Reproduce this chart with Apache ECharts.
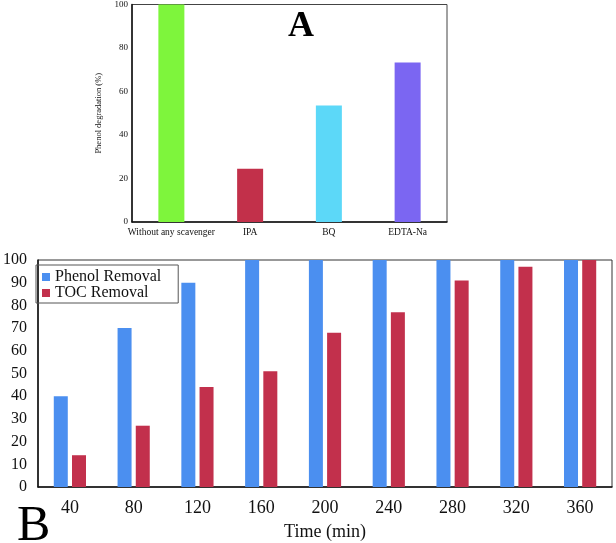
<!DOCTYPE html>
<html>
<head>
<meta charset="utf-8">
<script src="https://cdn.jsdelivr.net/npm/echarts@6/dist/echarts.min.js"></script>
<style>html,body{margin:0;padding:0;background:#fff;}#c{width:616px;height:543px;}</style>
</head>
<body>
<div id="c"></div>
<script>
const scavengers = ['Without any scavenger', 'IPA', 'BQ', 'EDTA-Na'];
const degradation = [100, 24.5, 53.6, 73.3];
const scavengerColors = ['#7ef53c', '#c2304a', '#5cd8f8', '#7b66f2'];
const degTicks = [0, 20, 40, 60, 80, 100];

const times = ['40', '80', '120', '160', '200', '240', '280', '320', '360'];
const phenolRemoval = [40, 70, 90, 100, 100, 100, 100, 100, 100];
const tocRemoval = [14, 27, 44, 51, 68, 77, 91, 97, 100];
const removalTicks = [0, 10, 20, 30, 40, 50, 60, 70, 80, 90, 100];

const serif = '"Liberation Serif", "DejaVu Serif", serif';
const chart = echarts.init(document.getElementById('c'));

chart.setOption({
  animation: false,
  backgroundColor: '#fff',
  graphic: [
    { type: 'text', left: 288, top: 9, style: { text: 'A', font: 'bold 36px ' + serif, fill: '#000' } },
    { type: 'text', left: 17, top: 502, style: { text: 'B', font: '50px ' + serif, fill: '#000' } }
  ],
  legend: {
    data: ['Phenol Removal', 'TOC Removal'],
    orient: 'vertical',
    left: 36, top: 265,
    padding: [4, 17, 2, 6],
    itemGap: 0,
    itemWidth: 8, itemHeight: 8,
    icon: 'rect',
    borderColor: '#555', borderWidth: 1,
    textStyle: { fontFamily: serif, fontSize: 16, color: '#111' }
  },
  grid: [
    { left: 132, top: 4, width: 315, height: 218, show: true, borderColor: '#444', borderWidth: 1 },
    { left: 34, top: 260, width: 578, height: 227, show: true, borderColor: '#333', borderWidth: 1 }
  ],
  xAxis: [
    {
      gridIndex: 0, type: 'category', data: scavengers,
      axisLine: { lineStyle: { color: '#111', width: 1.5 } },
      axisTick: { show: false },
      axisLabel: { fontFamily: serif, fontSize: 9.5, color: '#111', margin: 5, interval: 0 }
    },
    {
      gridIndex: 1, type: 'category', data: times,
      axisLine: { lineStyle: { color: '#111', width: 1.5 } },
      axisTick: { show: false },
      axisLabel: { fontFamily: serif, fontSize: 18, color: '#111', margin: 12, interval: 0 },
      name: 'Time (min)', nameLocation: 'middle', nameGap: 36,
      nameTextStyle: { fontFamily: serif, fontSize: 18, color: '#111' }
    }
  ],
  yAxis: [
    {
      gridIndex: 0, type: 'value', min: degTicks[0], max: degTicks[degTicks.length - 1], interval: 20,
      axisLine: { show: true, lineStyle: { color: '#111', width: 1.5 } },
      axisTick: { show: false },
      splitLine: { show: false },
      axisLabel: { fontFamily: serif, fontSize: 9, color: '#111', margin: 4 },
      name: 'Phenol degradation (%)', nameLocation: 'middle', nameGap: 24,
      nameTextStyle: { fontFamily: serif, fontSize: 8.5, color: '#111' }
    },
    {
      gridIndex: 1, type: 'value', min: removalTicks[0], max: removalTicks[removalTicks.length - 1], interval: 10,
      axisLine: { show: true, lineStyle: { color: '#111', width: 1.5 } },
      axisTick: { show: false },
      splitLine: { show: false },
      axisLabel: { fontFamily: serif, fontSize: 16, color: '#111', margin: 11 }
    }
  ],
  series: [
    {
      type: 'bar', xAxisIndex: 0, yAxisIndex: 0, barWidth: 26,
      data: degradation.map((v, i) => ({ value: v, itemStyle: { color: scavengerColors[i] } }))
    },
    {
      name: 'Phenol Removal', type: 'bar', xAxisIndex: 1, yAxisIndex: 1,
      barWidth: 14, barGap: '30%', data: phenolRemoval, itemStyle: { color: '#4b8ff0' }
    },
    {
      name: 'TOC Removal', type: 'bar', xAxisIndex: 1, yAxisIndex: 1,
      barWidth: 14, barGap: '30%', data: tocRemoval, itemStyle: { color: '#c2304c' }
    }
  ]
});
</script>
</body>
</html>
